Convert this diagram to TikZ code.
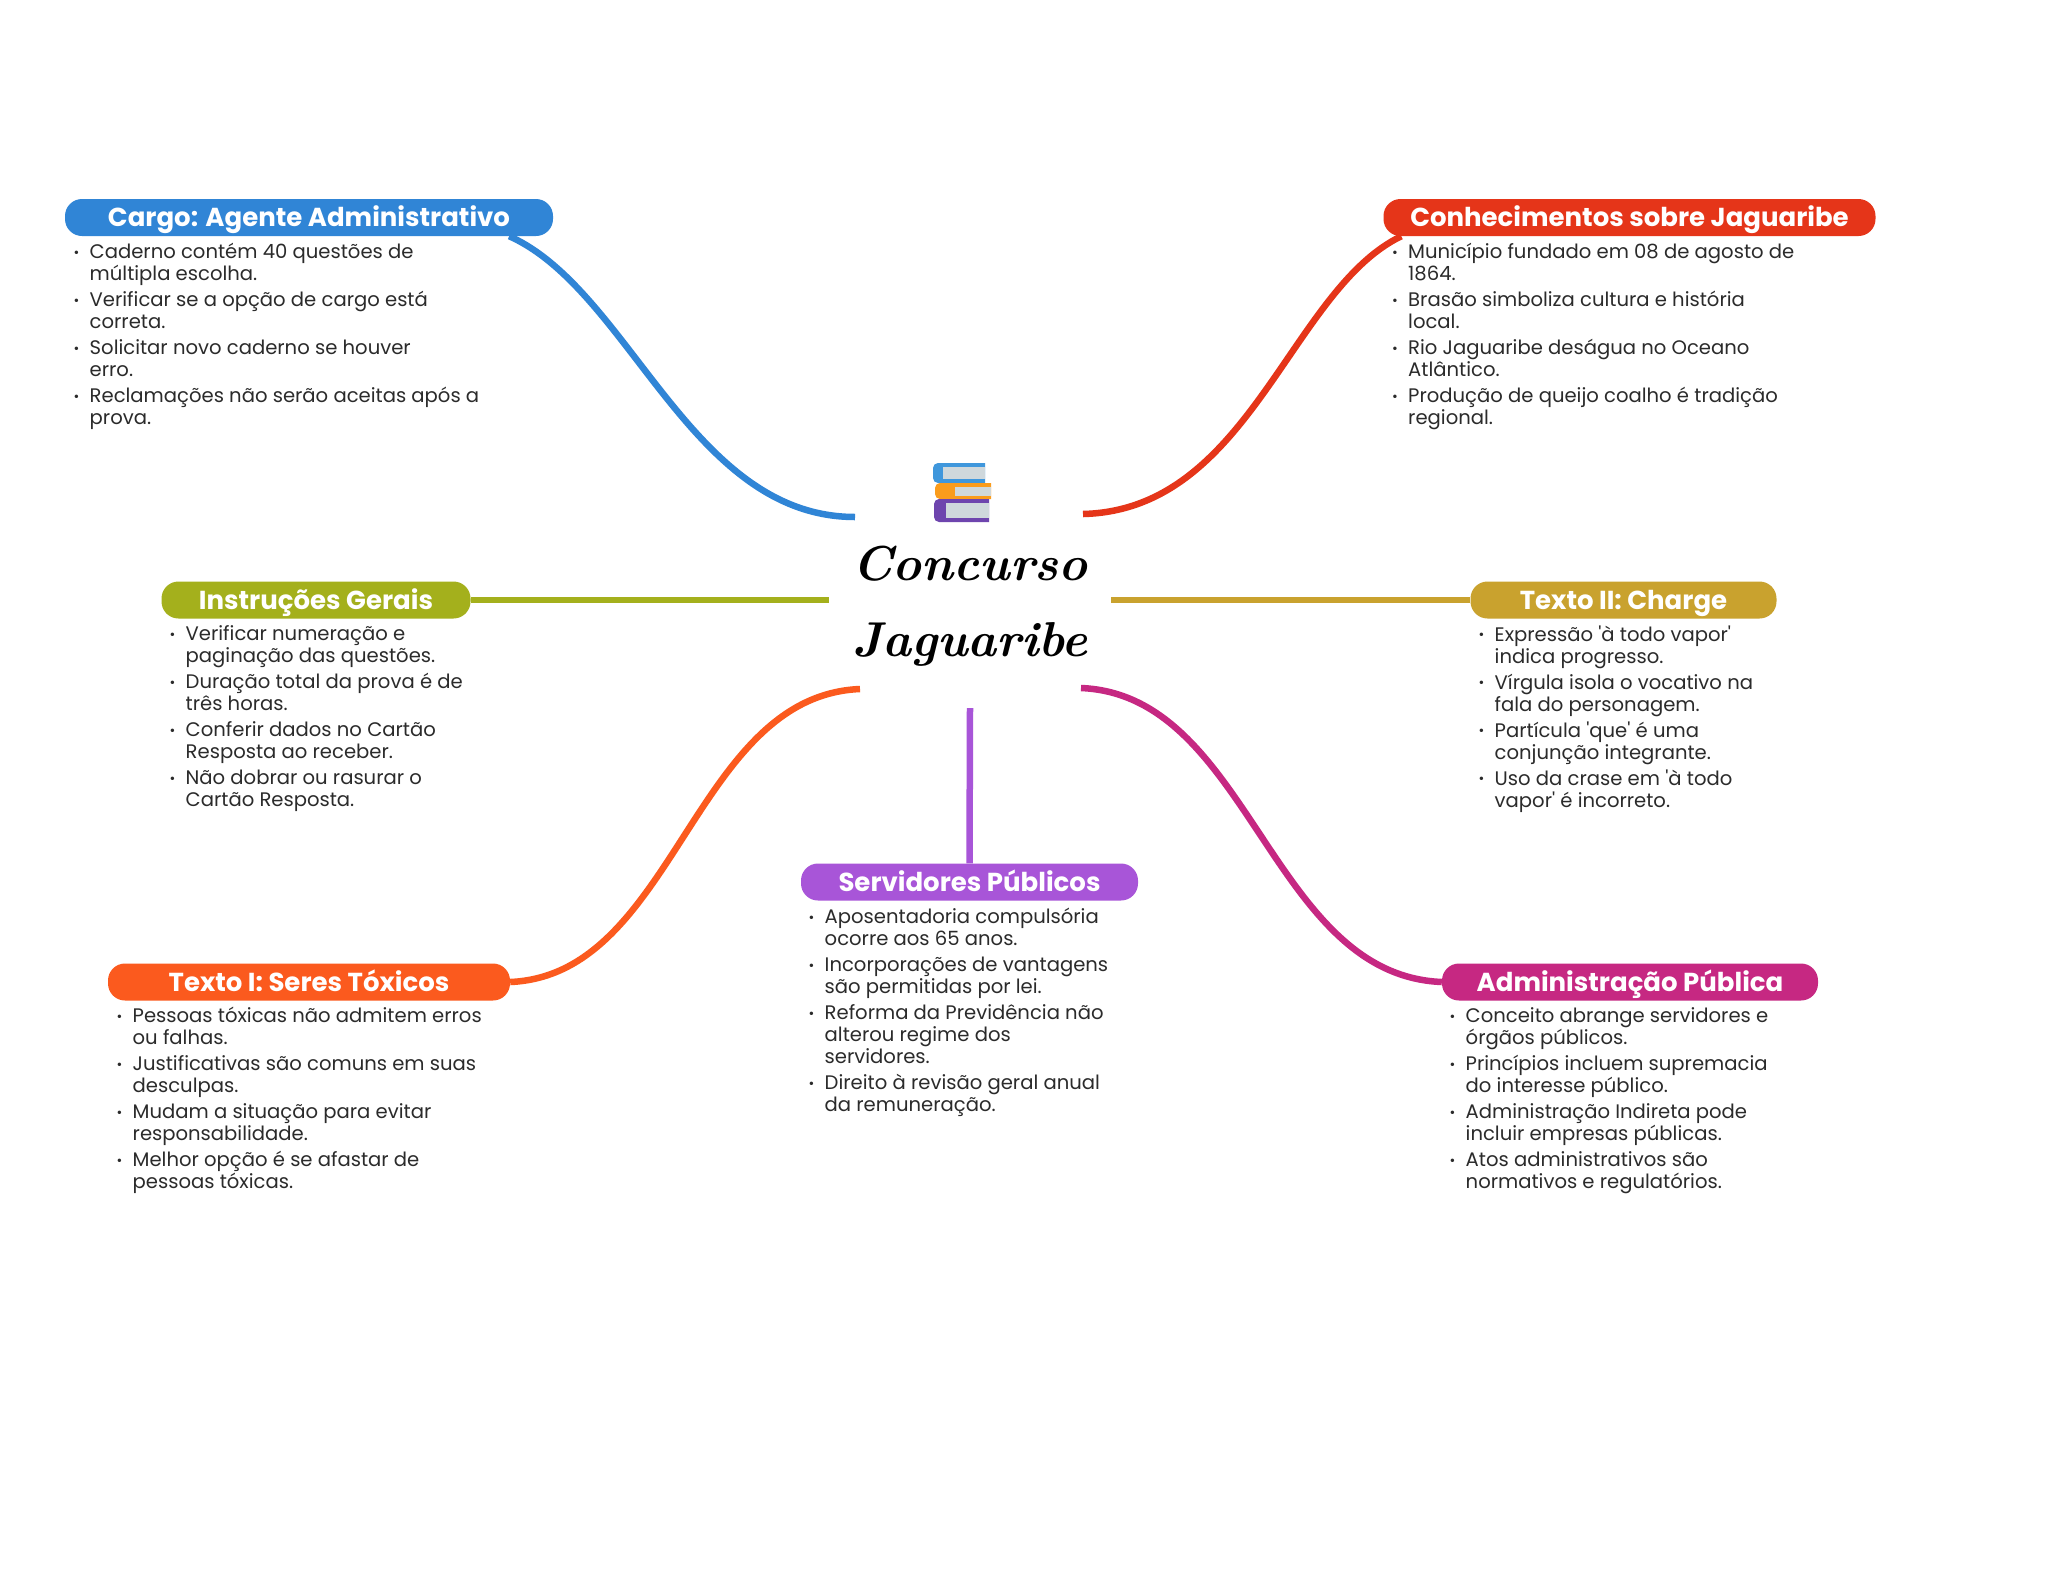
\documentclass[tikz,border=0pt]{standalone}
\usepackage{fontspec}
\setmainfont{Poppins}
\newfontfamily\titlefont{Latin Modern Roman}
\usetikzlibrary{positioning}
\definecolor{cargoblue}{HTML}{3085D6}
\definecolor{jagred}{HTML}{E53519}
\definecolor{geraisolive}{HTML}{A4B01C}
\definecolor{chargegold}{HTML}{C9A22E}
\definecolor{servpurple}{HTML}{A855D8}
\definecolor{toxorange}{HTML}{FB5A1E}
\definecolor{admmagenta}{HTML}{C62882}
\definecolor{bodygrey}{HTML}{2B2B2B}
\definecolor{bookblue}{HTML}{3F97DC}
\definecolor{bookorange}{HTML}{FA9C1C}
\definecolor{bookviolet}{HTML}{6E45AE}
\definecolor{pagegrey}{HTML}{CFD8DC}
\newcommand{\bdot}{\hspace{1.5pt}\raisebox{1.5pt}{\fontsize{14}{14}\selectfont\textbullet}}
\newcommand{\itm}[2]{\bdot & #1 \\ & #2 \\[4pt]}
\newcommand{\itmm}[3]{\bdot & #1 \\ & #2 \\ & #3 \\[4pt]}
\newenvironment{blist}{\fontsize{19.6}{22}\selectfont\color{bodygrey}\setlength{\tabcolsep}{0pt}\begin{tabular}{@{}p{17.5pt}l@{}}}{\end{tabular}}
\tikzset{
	topic/.style={rounded corners=17pt, minimum height=37pt, inner sep=0pt, text height=22pt, text depth=3.4pt, text=white, font=\fontsize{26}{30}\selectfont\bfseries},
	listbox/.style={anchor=north west, inner sep=0pt, align=left},
	branch/.style={line width=6.5pt},
}
\begin{document}
\begin{tikzpicture}[x=1pt,y=-1pt]
	\useasboundingbox (0,0) rectangle (2048,1569);
	\fill[white] (0,0) rectangle (2048,1569);

	\node[font=\titlefont\bfseries\itshape\fontsize{49}{76}\selectfont, align=center, inner sep=0pt] (centre) at (970,606) {Concurso\\Jaguaribe};

	\coordinate (cargoend) at (855,517);
	\coordinate (jagend) at (1083,514);
	\coordinate (geraisend) at (829,600);
	\coordinate (chargeend) at (1111,600);
	\coordinate (toxend) at (860,689);
	\coordinate (servend) at (970,708);
	\coordinate (admend) at (1081,688);

	\node[topic, fill=cargoblue, minimum width=488pt] (cargo) at (309,217.5) {Cargo: Agente Administrativo};
	\node[topic, fill=jagred, minimum width=492pt] (jag) at (1629.5,217.5) {Conhecimentos sobre Jaguaribe};
	\node[topic, fill=geraisolive, minimum width=309pt] (gerais) at (316,600) {Instruções Gerais};
	\node[topic, fill=chargegold, minimum width=306pt] (charge) at (1623.5,600) {Texto II: Charge};
	\node[topic, fill=servpurple, minimum width=337pt] (serv) at (969.5,882) {Servidores Públicos};
	\node[topic, fill=toxorange, minimum width=402pt] (tox) at (309,982) {Texto I: Seres Tóxicos};
	\node[topic, fill=admmagenta, minimum width=376pt] (adm) at (1630,982) {Administração Pública};

	\draw[branch, cargoblue] ([xshift=-44pt]cargo.south east) .. controls (630,290) and (690,517) .. (cargoend);
	\draw[branch, jagred] ([xshift=18pt]jag.south west) .. controls (1290,290) and (1250,510) .. (jagend);
	\draw[branch, geraisolive] (gerais.east) -- (geraisend);
	\draw[branch, chargegold] (charge.west) -- (chargeend);
	\draw[branch, toxorange] (tox.east) .. controls (675,975) and (693,696) .. (toxend);
	\draw[branch, servpurple] (serv.north) -- (servend);
	\draw[branch, admmagenta] (adm.west) .. controls (1270,975) and (1250,695) .. (admend);

	\node[listbox] (cargolist) at (72,243.2) {\begin{blist}
		\itm{Caderno contém 40 questões de}{múltipla escolha.}
		\itm{Verificar se a opção de cargo está}{correta.}
		\itm{Solicitar novo caderno se houver}{erro.}
		\itm{Reclamações não serão aceitas após a}{prova.}
	\end{blist}};
	\node[listbox] (jaglist) at (1390.5,243.2) {\begin{blist}
		\itm{Município fundado em 08 de agosto de}{1864.}
		\itm{Brasão simboliza cultura e história}{local.}
		\itm{Rio Jaguaribe deságua no Oceano}{Atlântico.}
		\itm{Produção de queijo coalho é tradição}{regional.}
	\end{blist}};
	\node[listbox] (geraislist) at (168,625.2) {\begin{blist}
		\itm{Verificar numeração e}{paginação das questões.}
		\itm{Duração total da prova é de}{três horas.}
		\itm{Conferir dados no Cartão}{Resposta ao receber.}
		\itm{Não dobrar ou rasurar o}{Cartão Resposta.}
	\end{blist}};
	\node[listbox] (chargelist) at (1477,625.2) {\begin{blist}
		\itm{Expressão \textquotesingle à todo vapor\textquotesingle}{indica progresso.}
		\itm{Vírgula isola o vocativo na}{fala do personagem.}
		\itm{Partícula \textquotesingle que\textquotesingle\ é uma}{conjunção integrante.}
		\itm{Uso da crase em \textquotesingle à todo}{vapor\textquotesingle\ é incorreto.}
	\end{blist}};
	\node[listbox] (servlist) at (807,908.2) {\begin{blist}
		\itm{Aposentadoria compulsória}{ocorre aos 65 anos.}
		\itm{Incorporações de vantagens}{são permitidas por lei.}
		\itmm{Reforma da Previdência não}{alterou regime dos}{servidores.}
		\itm{Direito à revisão geral anual}{da remuneração.}
	\end{blist}};
	\node[listbox] (toxlist) at (115,1007.2) {\begin{blist}
		\itm{Pessoas tóxicas não admitem erros}{ou falhas.}
		\itm{Justificativas são comuns em suas}{desculpas.}
		\itm{Mudam a situação para evitar}{responsabilidade.}
		\itm{Melhor opção é se afastar de}{pessoas tóxicas.}
	\end{blist}};
	\node[listbox] (admlist) at (1448,1007.2) {\begin{blist}
		\itm{Conceito abrange servidores e}{órgãos públicos.}
		\itm{Princípios incluem supremacia}{do interesse público.}
		\itm{Administração Indireta pode}{incluir empresas públicas.}
		\itm{Atos administrativos são}{normativos e regulatórios.}
	\end{blist}};

	\fill[rounded corners=5pt, fill=bookblue] (985,463) -- (933,463) -- (933,483) -- (985,483);
	\fill[pagegrey] (943,467) rectangle (985,479);
	\fill[rounded corners=5pt, fill=bookorange] (991,483) -- (935,483) -- (935,499) -- (991,499);
	\fill[pagegrey] (955,487) rectangle (991,496);
	\fill[rounded corners=5pt, fill=bookviolet] (989,499) -- (934,499) -- (934,522) -- (989,522);
	\fill[pagegrey] (946,503) rectangle (989,518);
\end{tikzpicture}
\end{document}
